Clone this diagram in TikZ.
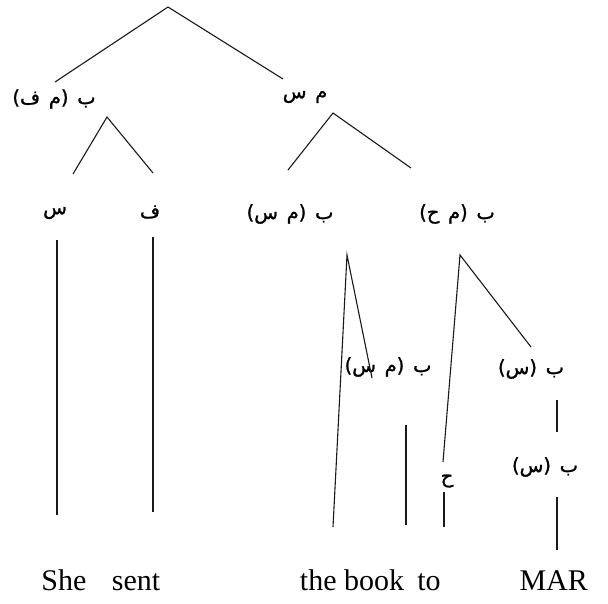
\documentclass[tikz,border=0pt]{standalone}
\usepackage{fontspec}
\setmainfont{Liberation Serif}
\newfontfamily\arabicfont[Script=Arabic,WordSpace=1.4,FakeBold=1.2]{DejaVu Sans}
\TeXXeTstate=1
\begin{document}
\begin{tikzpicture}[x=1pt,y=-1pt,line width=1.1pt,
  arlab/.style={font=\arabicfont\fontsize{19.5}{22}\selectfont,inner sep=0pt},
  word/.style={font=\fontsize{30}{33}\selectfont,inner sep=0pt,anchor=base},
  branch/.style={draw=black!90}]
\useasboundingbox (0,0) rectangle (608,603);
\clip (0,0) rectangle (608,603);
% labels
\node[arlab] (vpf) at (54,99) {\beginR ب (م ف)\endR};
\node[arlab] (ms) at (305,97) {\beginR م س\endR};
\node[arlab] (sin) at (55,213) {\beginR س\endR};
\node[arlab] (fa) at (150,212) {\beginR ف\endR};
\node[arlab] (bms) at (290,214) {\beginR ب (م س)\endR};
\node[arlab] (bmh) at (457,214) {\beginR ب (م ح)\endR};
\node[arlab] (bms2) at (388,367) {\beginR ب (م س)\endR};
\node[arlab] (bs) at (531,369) {\beginR ب (س)\endR};
\node[arlab] (ha) at (447,481) {\beginR ح\endR};
\node[arlab] (bs2) at (545,467) {\beginR ب (س)\endR};
% words
\node[word] (she) at (64,590) {She};
\node[word] (sent) at (136,590) {sent};
\node[word] (thebook) at (352,590) {the book};
\node[word] (to) at (429,590) {to};
\node[word,anchor=base west] (mar) at (519,590) {MAR};
% branch points
\coordinate (r) at (168,7);
\coordinate (rl) at (55,82);
\coordinate (rr) at (283,79);
\coordinate (a) at (107,117);
\coordinate (al) at (73,174);
\coordinate (ar) at (153,173);
\coordinate (b) at (333,113);
\coordinate (bl) at (288,170);
\coordinate (br) at (411,168);
\coordinate (c) at (347,255);
\coordinate (cl) at (333,527);
\coordinate (cr) at (372,378);
\coordinate (d) at (460,255);
\coordinate (dl) at (443,462);
\coordinate (dr) at (531,347);
\coordinate (sheT) at (57,240);
\coordinate (sheB) at (57,515);
\coordinate (sentT) at (153,237);
\coordinate (sentB) at (153,512);
\coordinate (bookT) at (406,425);
\coordinate (bookB) at (406,525);
\coordinate (toT) at (444,492);
\coordinate (toB) at (444,527);
\coordinate (m1T) at (557,400);
\coordinate (m1B) at (557,432);
\coordinate (m2T) at (557,497);
\coordinate (m2B) at (557,550);
% connectors
\draw[branch] (rl) -- (r) -- (rr);
\draw[branch] (al) -- (a) -- (ar);
\draw[branch] (bl) -- (b) -- (br);
\draw[branch] (cl) -- (c) -- (cr);
\draw[branch] (dl) -- (d) -- (dr);
\draw[branch] (sheT) -- (sheB);
\draw[branch] (sentT) -- (sentB);
\draw[branch] (bookT) -- (bookB);
\draw[branch] (toT) -- (toB);
\draw[branch] (m1T) -- (m1B);
\draw[branch] (m2T) -- (m2B);
\end{tikzpicture}
\end{document}
